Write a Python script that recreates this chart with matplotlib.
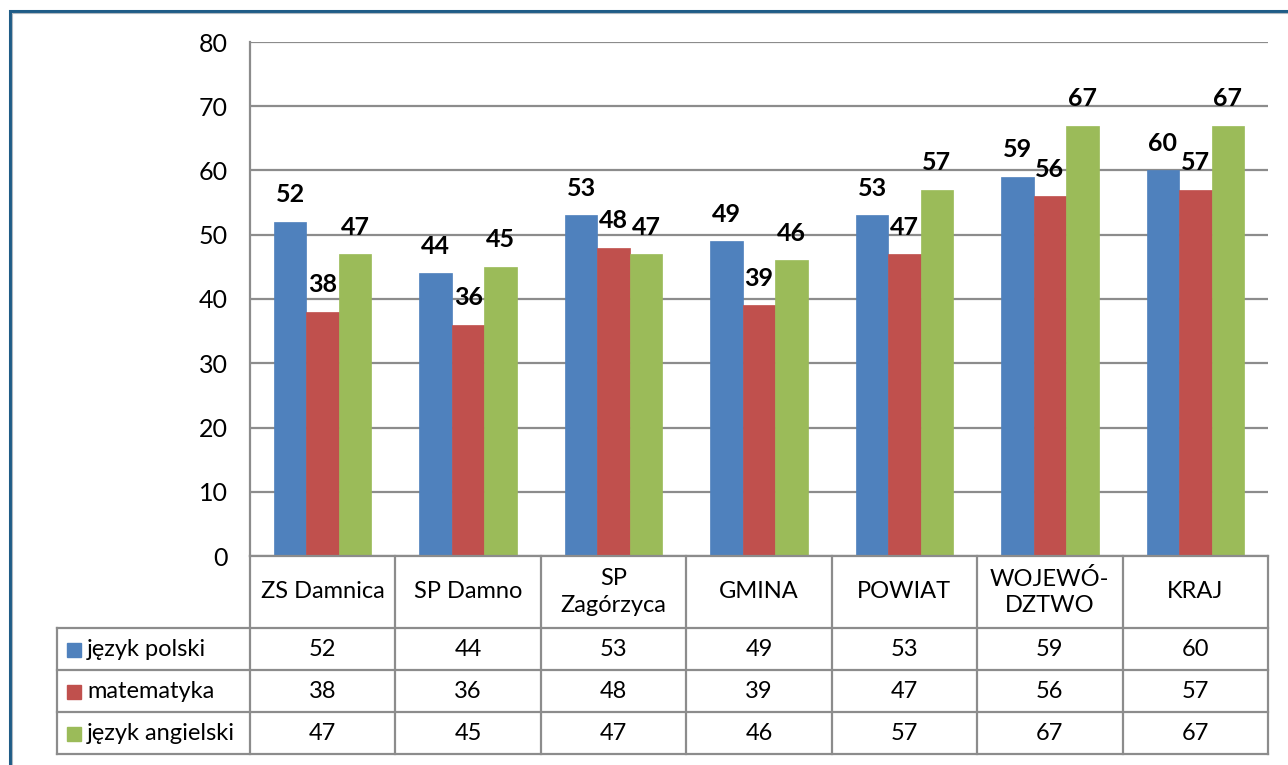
import numpy as np
from matplotlib import pyplot as plt
from matplotlib import patches, transforms

plt.rcParams['font.family'] = ['Lato', 'DejaVu Sans']

categories = ["ZS Damnica", "SP Damno", "SP\nZagórzyca", "GMINA", "POWIAT", "WOJEWÓ-\nDZTWO", "KRAJ"]
series = ["język polski", "matematyka", "język angielski"]
polski = [52, 44, 53, 49, 53, 59, 60]
matematyka = [38, 36, 48, 39, 47, 56, 57]
angielski = [47, 45, 47, 46, 57, 67, 67]
values = [polski, matematyka, angielski]
colors = ["#4F81BD", "#C0504D", "#9BBB59"]

W, H = 1288, 765
fig = plt.figure(figsize=(W / 100, H / 100), dpi=100)

# plot area in pixels
L, R, T, B = 250, 1268, 42, 556
ax = fig.add_axes([L / W, (H - B) / H, (R - L) / W, (B - T) / H])

n = len(categories)
x = np.arange(n)
bw = 0.223
grid_c = "#8C8C8C"

for j, (vals, col) in enumerate(zip(values, colors)):
    pos = x + (j - 1) * bw
    ax.bar(pos, vals, bw, color=col, edgecolor=col, linewidth=0.5, zorder=3)
    for xp, v in zip(pos, vals):
        ax.text(xp, v + 4.2, str(v), ha="center", va="center",
                fontsize=18, fontweight="bold", color="black", zorder=4)

ax.set_xlim(-0.5, n - 0.5)
ax.set_ylim(0, 80)
ax.set_yticks(range(0, 81, 10))
ax.set_xticks([])
ax.yaxis.grid(True, color=grid_c, linewidth=1.6, zorder=0)
ax.tick_params(axis="y", length=0, pad=16, labelsize=18)
for s in ["top", "right", "bottom"]:
    ax.spines[s].set_visible(False)
ax.spines["left"].set_color(grid_c)
ax.spines["left"].set_linewidth(1.6)


def fy(py):
    return (B - py) / (B - T)


def fx(px):
    return (px - L) / (R - L)


blend = transforms.blended_transform_factory(ax.transData, ax.transAxes)
lkw = dict(color=grid_c, linewidth=1.6, clip_on=False, zorder=5)

row_lines = [628, 670, 712, 754]
# vertical lines of the data table
for k in range(n + 1):
    ax.plot([k - 0.5, k - 0.5], [fy(B), fy(754)], transform=blend, **lkw)
ax.plot([fx(57), fx(57)], [fy(628), fy(754)], transform=ax.transAxes, **lkw)
for py in row_lines:
    ax.plot([fx(57), 1], [fy(py), fy(py)], transform=ax.transAxes, **lkw)
ax.plot([0, 1], [0, 0], transform=ax.transAxes, **lkw)

# header row
for i, c in enumerate(categories):
    ax.text(i, fy(592), c, transform=blend, ha="center", va="center",
            fontsize=17, linespacing=1.3)

# rows with values and legend keys
row_centers = [650, 692, 734]
for j, (name, vals, col) in enumerate(zip(series, values, colors)):
    yc = fy(row_centers[j])
    ax.add_patch(patches.Rectangle((fx(67), yc - 7 / (B - T)), 14 / (R - L), 14 / (B - T),
                                   transform=ax.transAxes, color=col, clip_on=False))
    ax.text(fx(87), yc, name, transform=ax.transAxes, ha="left", va="center", fontsize=17)
    for i, v in enumerate(vals):
        ax.text(i, yc, str(v), transform=blend, ha="center", va="center", fontsize=17)

# outer frame of the chart object
fig.patches.append(patches.Rectangle((10 / W, -0.1), 1.2, (H - 11) / H + 0.1,
                                     transform=fig.transFigure, fill=False,
                                     edgecolor="#1F5C87", linewidth=2.2))
fig.patches.append(patches.Rectangle((12 / W, -0.1), 1.2, (H - 13) / H + 0.1,
                                     transform=fig.transFigure, fill=False,
                                     edgecolor="#B0B8C0", linewidth=0.8))

fig.savefig("out.png", dpi=100)
